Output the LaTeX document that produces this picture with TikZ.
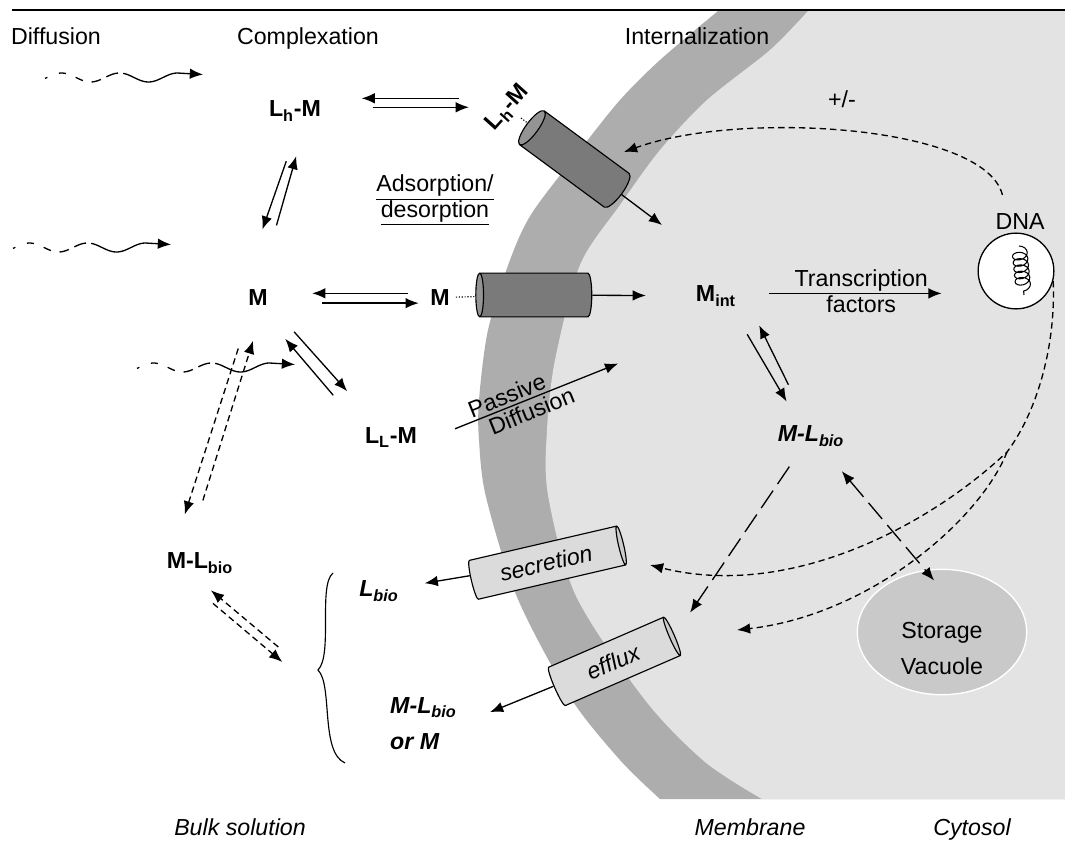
\documentclass[tikz,border=0pt]{standalone}
\usepackage{fontspec}
\setmainfont{Liberation Sans}
\usetikzlibrary{arrows.meta, shapes.geometric, decorations.pathmorphing}

\definecolor{cytosol}{gray}{0.89}
\definecolor{membrane}{gray}{0.68}
\definecolor{poredark}{gray}{0.48}
\definecolor{poreend}{gray}{0.58}
\definecolor{pipefill}{gray}{0.86}
\definecolor{pipeend}{gray}{0.80}
\definecolor{vacuole}{gray}{0.79}

\tikzset{
  txt/.style={font=\fontsize{13.2}{20.4}\selectfont, anchor=base},
  txtit/.style={txt, font=\fontsize{13.2}{20.4}\selectfont\itshape},
  chem/.style={txt, font=\fontsize{13.2}{20.4}\selectfont\bfseries},
  chemit/.style={txt, font=\fontsize{13.2}{20.4}\selectfont\bfseries\itshape},
  arr/.style={-{Latex[length=7.5pt,width=6pt]}, line width=0.75pt},
  dasharr/.style={arr, dash pattern=on 3.6pt off 2.3pt},
  longarr/.style={arr, dash pattern=on 12pt off 4.5pt},
  longboth/.style={longarr, {Latex[length=7.5pt,width=6pt]}-{Latex[length=7.5pt,width=6pt]}},
  wavy/.style={arr, dash pattern=on 1.5pt off 7pt on 4pt off 6pt on 4.5pt off 5pt on 5.5pt off 3.5pt on 7pt off 3pt on 300pt},
  channel/.style={cylinder, draw, line width=0.65pt, inner sep=0pt, aspect=0.35,
    cylinder uses custom fill, cylinder body fill=poredark, cylinder end fill=poreend},
  pipe/.style={cylinder, draw, line width=0.65pt, inner sep=0pt, aspect=0.3,
    cylinder uses custom fill, cylinder body fill=pipefill, cylinder end fill=pipeend,
    font=\fontsize{13.2}{15}\selectfont\itshape}
}

\begin{document}
\begin{tikzpicture}[x=0.02cm, y=-0.02cm]
      \fill[white] (0,0) rectangle (1065,849);
      \useasboundingbox (0,0) rectangle (1065,849);

      \fill[membrane] plot[smooth] coordinates {(718,11) (660,60) (620,100) (580,150) (532,213) (510,260) (488,330) (479,400) (479,440) (486,497) (517,597) (570,697) (620,760) (660,799)} -- (1065,799) -- (1065,11) -- cycle;
      \fill[cytosol] plot[smooth] coordinates {(808,11) (770,50) (707,100) (660,150) (620,205) (580,265) (555,360) (547,430) (548,495) (576,596) (645,700) (705,762) (762,799)} -- (1065,799) -- (1065,11) -- cycle;
      \draw[line width=1.6pt] (12,10) -- (1065,10);

      \node[txt] (diff) at (56,44) {Diffusion};
      \node[txt] (cplx) at (308,44) {Complexation};
      \node[txt] (intl) at (697,44) {Internalization};
      \node[txt] (pm) at (842,107.5) {+/-};

      \node[chem] (lhm) at (295,116.5) {L\textsubscript{h}-M};
      \node[chem, anchor=center, rotate=48] (lhmc) at (508,108) {L\textsubscript{h}-M};
      \node[chem] (m) at (258,305.5) {M};
      \node[chem] (mc) at (440,305.5) {M};
      \node[chem] (mint) at (716,301.5) {M\textsubscript{int}};
      \node[chem] (llm) at (391,443.5) {L\textsubscript{L}-M};
      \node[chemit] (mlbi) at (811,441.5) {M-L\textsubscript{bio}};
      \node[chem] (mlbo) at (200,568.5) {M-L\textsubscript{bio}};
      \node[chemit] (lbio) at (379,596.5) {L\textsubscript{bio}};
      \node[chemit, anchor=north west, align=left] (mlbm) at (384,691) {M-L\textsubscript{bio}\\or M};

      \node[txt, anchor=north, align=center, font=\fontsize{13.2}{14.7}\selectfont] (ads) at (435,168.6) {\underline{Adsorption/}\\\underline{desorption}};

      \node[channel, rotate=143.6, minimum height=66.9pt, minimum width=23.8pt] (cyl1) at (577,161) {\rule{0pt}{20pt}};
      \node[channel, rotate=180, aspect=0.22, minimum height=66pt, minimum width=24.9pt] (cyl2) at (536,295) {\rule{0pt}{20pt}};
      \node[pipe, rotate=13.1, minimum height=89pt, minimum width=22.7pt] (sec) at (546,563) {secretion};
      \node[pipe, rotate=23.5, minimum height=74.3pt, minimum width=23.8pt] (eff) at (613,662) {efflux};

      \node[circle, draw, fill=white, line width=0.75pt, minimum size=43.1pt, inner sep=0pt] (dna) at (1016,271) {};
      \node[txt] (dnal) at (1020,229.4) {DNA};
      \draw[decorate, decoration={coil, aspect=0.7, segment length=3.6pt, amplitude=4.3pt}, line width=0.6pt] (1019,246) -- (1024,295);

      \node[ellipse, fill=vacuole, draw=white, line width=0.8pt, minimum width=96.4pt, minimum height=71.4pt] (vac) at (942,632) {};
      \node[txt, anchor=north, align=center] (vacl) at (942,615.8) {Storage\\Vacuole};

      \node[txtit] (bulk) at (240,835) {Bulk solution};
      \node[txtit] (memb) at (750,835) {Membrane};
      \node[txtit] (cyto) at (972,835) {Cytosol};

      \coordinate (lhin) at (662,225);
      \coordinate (cylreg) at (624,152);
      \coordinate (split) at (1007,452);
      \coordinate (secin) at (650,565);
      \coordinate (effin) at (737,630);
      \coordinate (brtip) at (318,670);

      \foreach \dx/\dy in {0/0, -32/170, 92/290}
        \draw[wavy, shift={(\dx,\dy)}] plot[domain=45:177.5, samples=60, smooth] (\x, {77.5-4.5*sin(6.2069*(\x-47))}) -- (203,74.5);

      \draw[arr, shorten <=15.6pt, shorten >=19.6pt] ([yshift=7.1pt]lhm.east -| lhmc.west) -- ([yshift=7.1pt]lhm.east);
      \draw[arr, shorten <=25.8pt, shorten >=10pt] ([yshift=2pt]lhm.east) -- ([yshift=2pt]lhm.east -| lhmc.west);
      \draw[arr, shorten <=9.4pt, shorten >=21.8pt] ([yshift=2.4pt]mc.west) -- ([yshift=2.4pt]m.east);
      \draw[arr, shorten <=27.5pt, shorten >=3.1pt] ([yshift=-3.2pt]m.east) -- ([yshift=-3.2pt]mc.west);
      \draw[arr, shorten <=20.5pt, shorten >=32.5pt] ([xshift=1.8pt]lhm.south) -- ([xshift=-8.2pt]m.north);
      \draw[arr, shorten <=34.3pt, shorten >=17.1pt] ([xshift=1.1pt]m.north) -- ([xshift=5.4pt]lhm.south);
      \draw[arr, shorten <=19.5pt, shorten >=20.3pt] ([xshift=-1.9pt]llm.north west) -- ([xshift=-6.7pt]m.south east);
      \draw[arr, shorten <=15.3pt, shorten >=23pt] ([xshift=1.3pt]m.south east) -- ([xshift=8.7pt]llm.north west);
      \draw[arr, shorten <=22pt, shorten >=8.2pt] ([xshift=19.3pt]mlbi.north west) -- ([xshift=6pt]mint.south east);
      \draw[arr, shorten <=14.5pt, shorten >=11.8pt] ([xshift=-4.5pt]mint.south east) -- ([xshift=14.5pt]mlbi.north west);

      \draw[dasharr, shorten <=27.4pt, shorten >=17.3pt] ([xshift=-6.6pt]mlbo.north) -- ([xshift=2.4pt]m.south);
      \draw[dasharr, shorten <=22pt, shorten >=19.1pt] ([xshift=-4.5pt]m.south) -- ([xshift=-14.5pt]mlbo.north);
      \draw[dasharr, shorten <=29.5pt, shorten >=9.7pt] ([yshift=-5.9pt]brtip) -- ([xshift=-1.2pt]mlbo.south);
      \draw[dasharr, shorten <=21.2pt, shorten >=26.6pt] ([xshift=-8.8pt]mlbo.south) -- ([yshift=-12.6pt]brtip);

      \draw[line width=0.65pt] (333,573) .. controls (318,585) and (333,655) .. (brtip) .. controls (333,685) and (320,752) .. (345,763);

      \draw[densely dotted, line width=0.65pt] (lhmc) -- (cyl1);
      \draw[arr] (cyl1) -- (lhin);
      \draw[densely dotted, line width=0.65pt] (mc) -- (cyl2);
      \draw[arr, shorten >=25pt] (cyl2) -- (mint);
      \draw[arr, shorten <=19.5pt, shorten >=43.9pt] ([yshift=-2.3pt]llm.east) -- ([yshift=-12.8pt]mint.south west)
        node[txt, pos=.33, sloped, above, inner sep=1.5pt] {Passive}
        node[txt, pos=.39, sloped, below, inner sep=1.5pt] {Diffusion};
      \draw[arr, shorten <=15.3pt, shorten >=20.4pt] ([yshift=1.4pt]mint.east) -- ([yshift=1.4pt]mint.east -| dna.west)
        node[txt, pos=.506, above, inner sep=1pt] {Transcription}
        node[txt, pos=.506, below, inner sep=1pt] {factors};
      \draw[arr, shorten >=11.4pt] (sec) -- (lbio);
      \draw[arr, shorten >=16.7pt] (eff) -- (mlbm.east);

      \draw[dasharr] ([xshift=-10pt, yshift=7pt]dnal.north) .. controls (985,125) and (740,110) .. (cylreg);
      \draw[dasharr] (dna.-15) .. controls (1056,350) and (1035,415) .. (split) .. controls (930,525) and (790,600) .. (secin);
      \draw[dasharr] (split) .. controls (980,520) and (870,615) .. (effin);
      \draw[longarr, shorten <=9.8pt, shorten >=15.5pt] ([xshift=-6.8pt]mlbi.south) -- (eff.top);
      \draw[longboth, shorten <=14pt] ([xshift=8.5pt]mlbi.south) -- ([xshift=-4.5pt, yshift=-6.8pt]vac.north);

\end{tikzpicture}
\end{document}
